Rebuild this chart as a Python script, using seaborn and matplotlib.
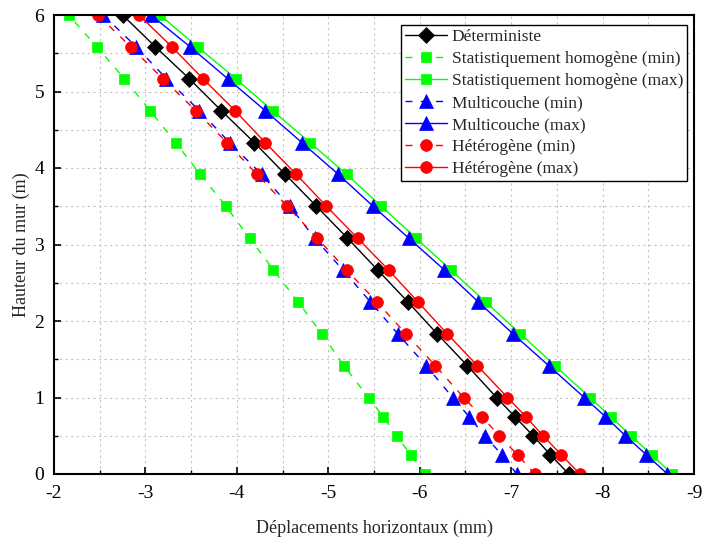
import matplotlib
matplotlib.use("Agg")
import matplotlib.pyplot as plt
from matplotlib.ticker import MultipleLocator, FuncFormatter
import seaborn as sns
import pandas as pd

# Wall heights (m) where displacements were computed
hauteurs = [0.0, 0.25, 0.5, 0.75, 1.0, 1.417, 1.833, 2.25, 2.667, 3.083,
            3.5, 3.917, 4.333, 4.75, 5.167, 5.583, 6.0]

# Horizontal displacements (mm) for each model
deterministe = [-7.63, -7.43, -7.24, -7.04, -6.84, -6.52, -6.19, -5.87, -5.54,
                -5.21, -4.87, -4.53, -4.19, -3.83, -3.48, -3.11, -2.75]
stat_min = [-6.06, -5.90, -5.75, -5.60, -5.44, -5.17, -4.93, -4.67, -4.40,
            -4.14, -3.88, -3.60, -3.33, -3.05, -2.77, -2.47, -2.16]
stat_max = [-8.76, -8.54, -8.31, -8.09, -7.86, -7.48, -7.10, -6.72, -6.34,
            -5.96, -5.58, -5.20, -4.80, -4.39, -3.99, -3.57, -3.16]
multi_min = [-7.06, -6.90, -6.71, -6.54, -6.36, -6.07, -5.76, -5.46, -5.16,
             -4.85, -4.58, -4.27, -3.92, -3.59, -3.23, -2.90, -2.54]
multi_max = [-8.71, -8.48, -8.25, -8.03, -7.80, -7.41, -7.02, -6.64, -6.27,
             -5.88, -5.49, -5.11, -4.71, -4.31, -3.90, -3.49, -3.06]
hetero_min = [-7.26, -7.07, -6.87, -6.68, -6.48, -6.17, -5.85, -5.53, -5.20,
              -4.88, -4.55, -4.22, -3.89, -3.55, -3.19, -2.84, -2.48]
hetero_max = [-7.75, -7.55, -7.35, -7.16, -6.96, -6.63, -6.30, -5.98, -5.66,
              -5.32, -4.98, -4.65, -4.31, -3.98, -3.63, -3.29, -2.93]

noms = ["Déterministe",
        "Statistiquement homogène (min)",
        "Statistiquement homogène (max)",
        "Multicouche (min)",
        "Multicouche (max)",
        "Hétérogène (min)",
        "Hétérogène (max)"]
valeurs = [deterministe, stat_min, stat_max, multi_min, multi_max,
           hetero_min, hetero_max]

GREEN = "#00ff00"
DASH = (0, (5, 6))
styles = {
    noms[0]: dict(color="black", marker="D", ms=8.5, ls="-"),
    noms[1]: dict(color=GREEN, marker="s", ms=7.5, ls=DASH),
    noms[2]: dict(color=GREEN, marker="s", ms=7.5, ls="-"),
    noms[3]: dict(color="blue", marker="^", ms=9.5, ls=DASH),
    noms[4]: dict(color="blue", marker="^", ms=9.5, ls="-"),
    noms[5]: dict(color="red", marker="o", ms=8.5, ls=DASH),
    noms[6]: dict(color="red", marker="o", ms=8.5, ls="-"),
}

df = pd.concat(
    [pd.DataFrame({"serie": n, "x": v, "y": hauteurs}) for n, v in zip(noms, valeurs)],
    ignore_index=True,
)

sns.set_style("white")
plt.rcParams["font.family"] = ["Liberation Serif", "DejaVu Serif"]
plt.rcParams["axes.unicode_minus"] = False

fig = plt.figure(figsize=(7.03, 5.43), dpi=100)
ax = fig.add_axes([54 / 703, 1 - 474 / 543, 640 / 703, 459 / 543])

for nom in noms:
    st = styles[nom]
    sub = df[df["serie"] == nom]
    sns.lineplot(data=sub, x="x", y="y", sort=False, estimator=None, ax=ax,
                 color=st["color"], linestyle=st["ls"], linewidth=1.0,
                 marker=st["marker"], markersize=st["ms"],
                 markerfacecolor=st["color"], markeredgecolor=st["color"],
                 markeredgewidth=0.5, label=nom)

ax.set_xlim(-2, -9)
ax.set_ylim(0, 6)
ax.xaxis.set_major_locator(MultipleLocator(1))
ax.xaxis.set_minor_locator(MultipleLocator(0.5))
ax.yaxis.set_major_locator(MultipleLocator(1))
ax.yaxis.set_minor_locator(MultipleLocator(0.5))
ax.xaxis.set_major_formatter(FuncFormatter(lambda v, p: f"{v:.0f}"))
ax.yaxis.set_major_formatter(FuncFormatter(lambda v, p: f"{v:.0f}"))

ax.grid(True, which="both", color="#c4c4c4", linestyle=(0, (2, 3)), linewidth=0.8)
ax.set_axisbelow(True)
for sp in ax.spines.values():
    sp.set_visible(True)
    sp.set_color("black")
    sp.set_linewidth(1.5)

ax.tick_params(which="both", direction="in", bottom=True, left=True,
               top=False, right=False, colors="black")
ax.tick_params(which="major", length=5, width=1.2, labelsize=14)
ax.tick_params(axis="x", which="major", pad=8)
ax.tick_params(axis="y", which="major", pad=7)
ax.tick_params(which="minor", length=3, width=1.0)

ax.set_xlabel("Déplacements horizontaux (mm)", fontsize=13, labelpad=13)
ax.set_ylabel("Hauteur du mur (m)", fontsize=13, labelpad=3)

leg = ax.legend(loc="upper right", bbox_to_anchor=(0.989, 0.978),
                borderaxespad=0, fontsize=12.5, frameon=True, fancybox=False,
                edgecolor="black", framealpha=1, handlelength=2.4,
                handletextpad=0.3, borderpad=0.22, labelspacing=0.34)
leg.get_frame().set_linewidth(1.0)

fig.savefig("out.png", dpi=100)
